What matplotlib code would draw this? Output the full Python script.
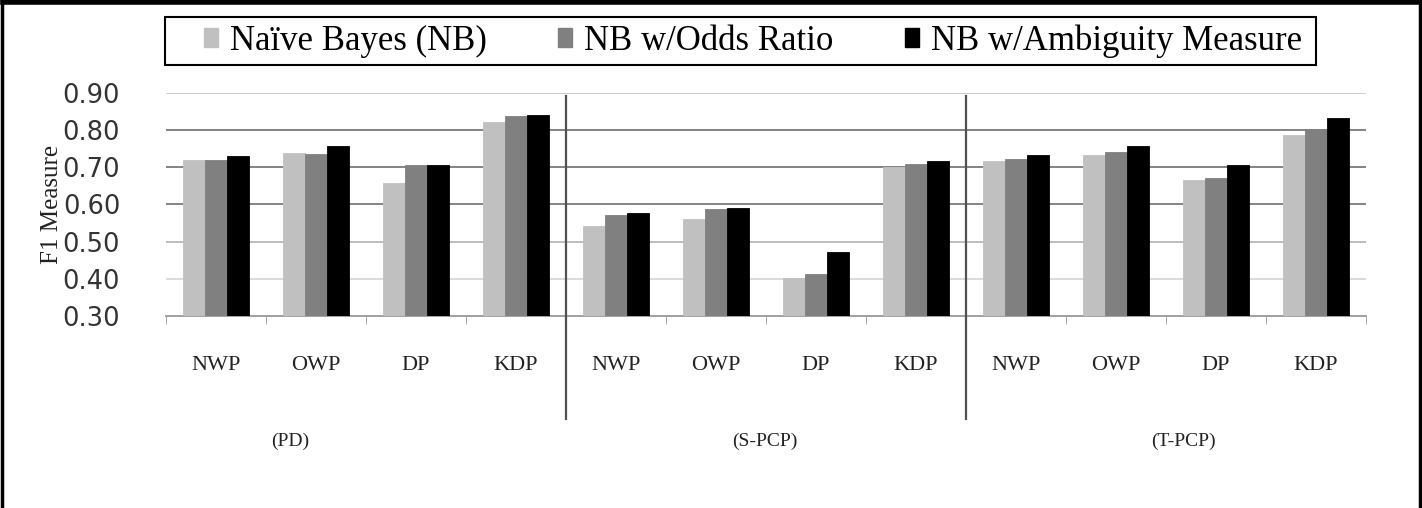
import numpy as np
import matplotlib
matplotlib.use("Agg")
from matplotlib import pyplot as plt
from matplotlib.lines import Line2D
from matplotlib.patches import Patch, Rectangle

groups = ["(PD)", "(S-PCP)", "(T-PCP)"]
categories = ["NWP", "OWP", "DP", "KDP"]
series = ["Naïve Bayes (NB)", "NB w/Odds Ratio", "NB w/Ambiguity Measure"]

# values read per group: NWP, OWP, DP, KDP
nb = [0.719, 0.738, 0.657, 0.822,
      0.542, 0.561, 0.401, 0.700,
      0.716, 0.732, 0.665, 0.787]
nb_odds = [0.719, 0.735, 0.705, 0.838,
           0.571, 0.587, 0.412, 0.709,
           0.721, 0.740, 0.670, 0.802]
nb_amb = [0.731, 0.757, 0.705, 0.839,
          0.576, 0.590, 0.471, 0.717,
          0.732, 0.757, 0.705, 0.831]

colors = ["#c0c0c0", "#808080", "#000000"]
serif = ["Liberation Serif", "DejaVu Serif"]

fig = plt.figure(figsize=(14.22, 5.08), dpi=100)
ax = fig.add_axes([166 / 1422, 192 / 508, 1200 / 1422, 223.3 / 508])

x = np.arange(len(nb))
w = 0.22
for i, (vals, c) in enumerate(zip([nb, nb_odds, nb_amb], colors)):
    ax.bar(x + (i - 1) * w, vals, w, color=c, edgecolor=c if i < 2 else "#000000",
           linewidth=0.6, zorder=3, label=series[i])

ax.set_ylim(0.30, 0.90)
ax.set_xlim(-0.5, len(nb) - 0.5)
yt = np.arange(0.30, 0.901, 0.10)
ax.set_yticks(yt)
ax.set_yticklabels([f"{v:.2f}" for v in yt], fontsize=18.5, color="#333333")
ax.tick_params(axis="y", length=0, pad=33)

# horizontal grid
gcols = ["#999999", "#d8d8d8", "#b8b8b8", "#7a7a7a", "#7a7a7a", "#7a7a7a", "#c8c8c8"]
for v, gc in zip(yt[1:], gcols[1:]):
    ax.axhline(v, color=gc, linewidth=1.3, zorder=1)

ax.set_xticks(x)
ax.set_xticklabels(categories * len(groups), fontfamily=serif, fontsize=16, color="#222222")
ax.tick_params(axis="x", which="major", length=0, pad=29)
ax.set_xticks(np.arange(-0.5, len(nb), 1.0), minor=True)
ax.tick_params(axis="x", which="minor", length=6, color="#999999", direction="out")

for s in ["top", "right", "left"]:
    ax.spines[s].set_visible(False)
ax.spines["bottom"].set_color("#999999")
ax.spines["bottom"].set_linewidth(1.3)

ax.set_ylabel("F1 Measure", fontfamily=serif, fontsize=18, color="#222222", labelpad=0)

# group separators and group labels
tr = ax.get_xaxis_transform()
for b in [3.5, 7.5]:
    ax.plot([b, b], [0.985, -0.46], transform=tr, color="#505050", linewidth=1.6,
            clip_on=False, zorder=4)
group_x = [0.74, 5.49, 9.67]
for gx, g in zip(group_x, groups):
    ax.text(gx, -0.56, g, transform=tr, ha="center", va="center",
            fontfamily=serif, fontsize=14, color="#222222")

# legend: frame drawn separately so the inner padding can differ per side
fig.add_artist(Rectangle((165 / 1422, 1 - 65 / 508), 1151 / 1422, 48 / 508,
                         transform=fig.transFigure, facecolor="white",
                         edgecolor="black", linewidth=1.5))
handles = [Patch(facecolor=c, edgecolor=c) for c in colors]
fig.legend(handles, series, loc="center left", ncol=3,
           bbox_to_anchor=(204 / 1422, 1 - 41 / 508),
           prop={"family": serif, "size": 25}, frameon=False,
           handlelength=0.4, handleheight=0.5, handletextpad=0.35,
           columnspacing=2.05, borderaxespad=0, borderpad=0)

# outer frame
for xs, ys, lw in [([0.002, 0.998], [0.996, 0.996], 4),
                   ([0.0015, 0.0015], [0, 1], 2.5),
                   ([0.9985, 0.9985], [0, 1], 2.5)]:
    fig.add_artist(Line2D(xs, ys, transform=fig.transFigure, color="black", linewidth=lw))

fig.savefig("out.png", dpi=100)
